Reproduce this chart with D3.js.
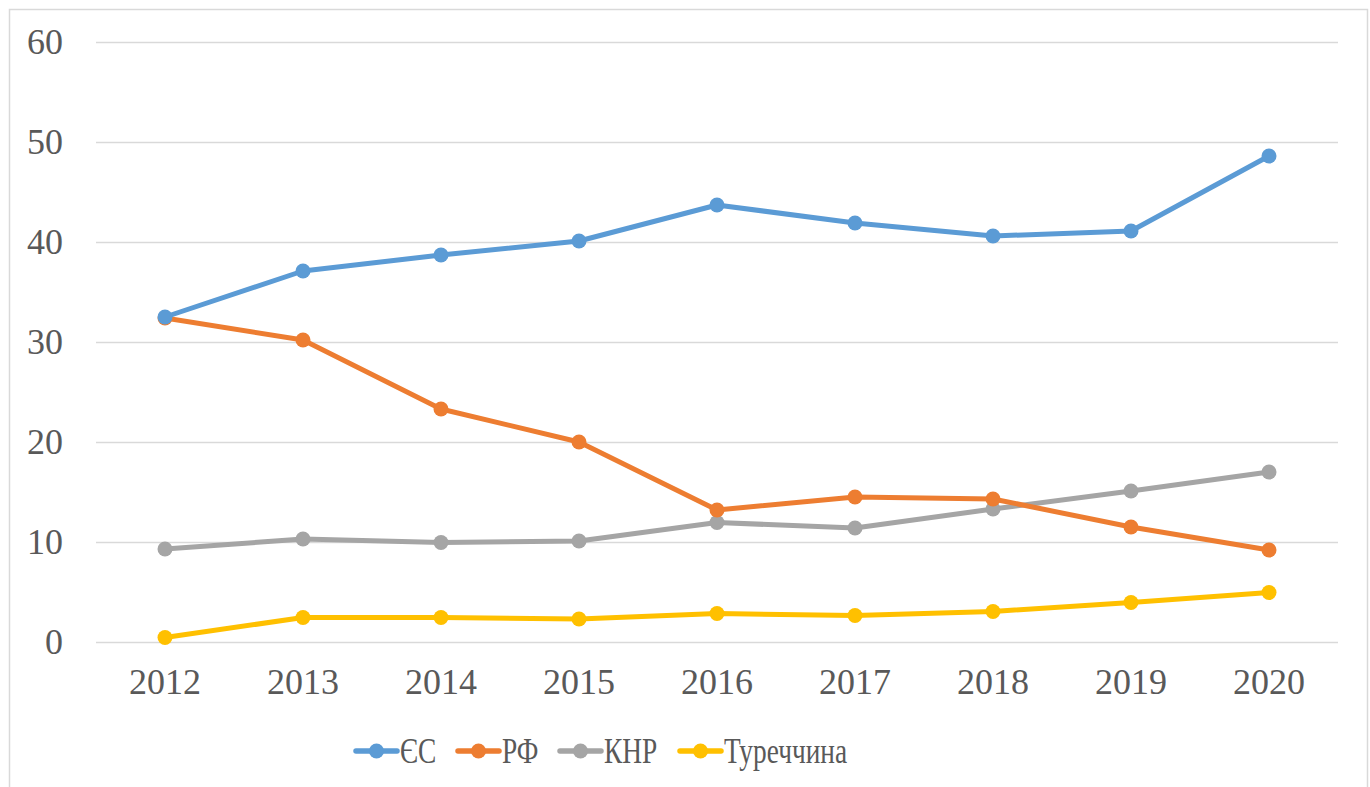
<!DOCTYPE html>
<html lang="uk">
<head>
<meta charset="utf-8">
<title>Chart</title>
<script src="https://d3js.org/d3.v7.min.js"></script>
<style>
  html, body { margin: 0; padding: 0; background: #fff; }
  text { font-family: "Liberation Serif", "Times New Roman", serif; fill: #595959; }
</style>
</head>
<body>
<div id="chart"></div>
<script>
// data
var years = ["2012", "2013", "2014", "2015", "2016", "2017", "2018", "2019", "2020"];
var seriesNames = ["ЄС", "РФ", "КНР", "Туреччина"];
var euValues = [32.5, 37.1, 38.7, 40.1, 43.7, 41.9, 40.6, 41.1, 48.6];
var ruValues = [32.4, 30.2, 23.3, 20.0, 13.2, 14.5, 14.3, 11.5, 9.2];
var cnValues = [9.3, 10.3, 9.95, 10.1, 11.95, 11.4, 13.3, 15.1, 17.0];
var trValues = [0.45, 2.45, 2.45, 2.3, 2.85, 2.65, 3.05, 3.95, 4.95];
var yTicks = [0, 10, 20, 30, 40, 50, 60];
var colors = ["#5B9BD5", "#ED7D31", "#A5A5A5", "#FFC000"];

var series = [euValues, ruValues, cnValues, trValues].map(function(vals, i) {
  return { name: seriesNames[i], color: colors[i], values: vals };
});

var w = 1370, h = 787;
var svg = d3.select("#chart").append("svg")
  .attr("width", w).attr("height", h);

// chart border
svg.append("rect")
  .attr("x", 9.5).attr("y", 9.5)
  .attr("width", 1358).attr("height", 800)
  .attr("fill", "none").attr("stroke", "#d9d9d9").attr("stroke-width", 1.5);

var x = d3.scalePoint().domain(years).range([96, 1338]).padding(0.5);
var y = d3.scaleLinear().domain([0, 60]).range([642, 42]);

// gridlines
svg.append("g").selectAll("line")
  .data(yTicks).enter().append("line")
  .attr("x1", 96).attr("x2", 1338)
  .attr("y1", function(d) { return y(d) + 0.5; })
  .attr("y2", function(d) { return y(d) + 0.5; })
  .attr("stroke", "#d9d9d9").attr("stroke-width", 1.5);

// y labels
svg.append("g").selectAll("text")
  .data(yTicks).enter().append("text")
  .attr("x", 63).attr("y", function(d) { return y(d) + 12; })
  .attr("text-anchor", "end")
  .style("font-size", "36px")
  .text(function(d) { return d; });

// x labels
svg.append("g").selectAll("text")
  .data(years).enter().append("text")
  .attr("x", function(d) { return x(d); }).attr("y", 694)
  .attr("text-anchor", "middle")
  .style("font-size", "36px")
  .text(function(d) { return d; });

var line = d3.line()
  .x(function(d, i) { return x(years[i]); })
  .y(function(d) { return y(d); });

// draw back to front so EU sits on top like the original
var groups = svg.append("g").selectAll("g")
  .data(series.slice().reverse()).enter().append("g");

groups.append("path")
  .attr("d", function(d) { return line(d.values); })
  .attr("fill", "none")
  .attr("stroke", function(d) { return d.color; })
  .attr("stroke-width", 5)
  .attr("stroke-linejoin", "round");

groups.selectAll("circle")
  .data(function(d) { return d.values.map(function(v, i) { return { v: v, i: i, c: d.color }; }); })
  .enter().append("circle")
  .attr("cx", function(d) { return x(years[d.i]); })
  .attr("cy", function(d) { return y(d.v); })
  .attr("r", 7.5)
  .attr("fill", function(d) { return d.c; });

// legend (text is squeezed horizontally in the original)
var legendX = [356, 458, 560, 680];
var legend = svg.append("g").selectAll("g")
  .data(series).enter().append("g")
  .attr("transform", function(d, i) { return "translate(" + legendX[i] + ",751)"; });

legend.append("line")
  .attr("x1", 0).attr("x2", 41).attr("y1", 0).attr("y2", 0)
  .attr("stroke", function(d) { return d.color; })
  .attr("stroke-width", 5.5)
  .attr("stroke-linecap", "round");
legend.append("circle")
  .attr("cx", 20.5).attr("cy", 0).attr("r", 7.5)
  .attr("fill", function(d) { return d.color; });
legend.append("text")
  .attr("transform", "translate(44,12) scale(0.76,1)")
  .style("font-size", "36px")
  .text(function(d) { return d.name; });
</script>
</body>
</html>
